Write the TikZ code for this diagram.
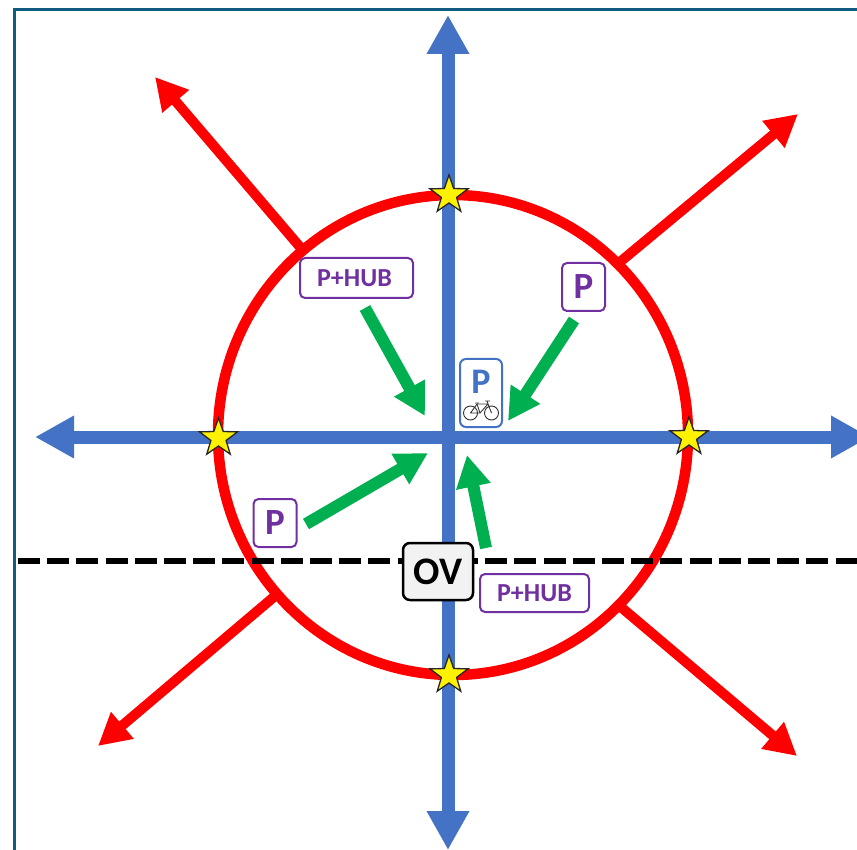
\documentclass[tikz,border=0pt]{standalone}
\usepackage{fontspec}
\setmainfont{Carlito}
\usetikzlibrary{arrows.meta,shapes.geometric}
\definecolor{blueax}{HTML}{4472C4}
\definecolor{redax}{HTML}{FF0000}
\definecolor{greenax}{HTML}{00B050}
\definecolor{purpax}{HTML}{7030A0}
\definecolor{framec}{HTML}{0F5C80}
\tikzset{
  bluearrow/.style={draw=blueax,line width=13pt,-{Triangle[length=39pt,width=40pt]}},
  redarrow/.style={draw=redax,line width=10pt,-{Triangle[length=32pt,width=33pt]}},
  greenarrow/.style={draw=greenax,line width=12pt,-{Triangle[length=32pt,width=33pt]}},
  purplebox/.style={draw=purpax,line width=2pt,rounded corners=5pt,fill=white,text=purpax,font=\bfseries,inner sep=0pt,align=center},
  hubbox/.style={purplebox,font=\fontsize{26}{28}\selectfont\bfseries},
  pbox/.style={purplebox,minimum width=43pt,minimum height=48pt,font=\fontsize{37}{40}\selectfont\bfseries},
  starnode/.style={star,star points=5,star point ratio=2.5,minimum size=40pt,inner sep=0pt,fill=yellow,draw=black!85,line width=1.3pt},
  bikeline/.style={draw=black!80,line width=.9pt}
}
\begin{document}
\begin{tikzpicture}[x=1pt,y=-1pt]
\useasboundingbox (0,0) rectangle (857,850);
\clip (0,0) rectangle (857,850);
\draw[framec,line width=3pt] (14.5,850) -- (14.5,9.5) -- (857,9.5);

\node[draw=redax,line width=10.5pt,ellipse,minimum width=470pt,minimum height=480pt,inner sep=0pt,outer sep=0pt] (ring) at (453,435) {};

\coordinate (vtop) at (448,15);
\coordinate (vbot) at (448,850);
\coordinate (hleft) at (35,437);
\coordinate (hright) at (870,437);
\draw[bluearrow] (vbot) ++(0,-39) -- (vtop);
\draw[bluearrow] (vtop) ++(0,39) -- (vbot);
\draw[bluearrow] (hright) ++(-39,0) -- (hleft);
\draw[bluearrow] (hleft) ++(39,0) -- (hright);

\coordinate (r1a) at (300,247); \coordinate (r1b) at (155,77);
\coordinate (r2a) at (620,262); \coordinate (r2b) at (798,114);
\coordinate (r3a) at (275,596); \coordinate (r3b) at (98,746);
\coordinate (r4a) at (622,608); \coordinate (r4b) at (797,756);
\draw[redarrow] (r1a) -- (r1b);
\draw[redarrow] (r2a) -- (r2b);
\draw[redarrow] (r3a) -- (r3b);
\draw[redarrow] (r4a) -- (r4b);

\coordinate (dl) at (18,561); \coordinate (dr) at (857,561);
\draw[black,line width=6pt,dash pattern=on 22pt off 7.2pt] (dl) -- (dr);

\node[draw=black,line width=2.5pt,rounded corners=7pt,fill=black!5,minimum width=70pt,minimum height=57pt,inner sep=0pt,font=\fontsize{39}{42}\selectfont\bfseries] (ov) at (438,571.5) {OV};

\node[hubbox,minimum width=113pt,minimum height=40pt] (hub1) at (356.5,278) {\hspace*{-4pt}P+HUB};
\node[hubbox,minimum width=109pt,minimum height=38pt] (hub2) at (534.5,593) {P+HUB};
\node[pbox] (p1) at (583.5,287) {P};
\node[pbox] (p2) at (275,523) {P};
\node[draw=blueax,line width=2pt,rounded corners=6pt,fill=white,minimum width=42pt,minimum height=68pt,inner sep=0pt] (pbike) at (481,393) {};
\node[text=blueax,font=\fontsize{36}{38}\selectfont\bfseries,inner sep=0pt] (pbikelabel) at (481,382) {P};

\draw[bikeline] (470.5,413) circle (7pt);
\draw[bikeline] (491.5,413) circle (7pt);
\draw[bikeline,line join=round] (470.5,413) -- (477,404) -- (488,404) -- (480,413) -- cycle;
\draw[bikeline] (477,404) -- (480,413) (488,404) -- (491.5,413) (487,401) -- (488,404) (485,401) -- (490,401) (475,403) -- (479,403);

\coordinate (g1a) at (365,308); \coordinate (g1b) at (425,416);
\coordinate (g2a) at (574,320); \coordinate (g2b) at (508,421);
\coordinate (g3a) at (306,524); \coordinate (g3b) at (428,453);
\coordinate (g4a) at (486,548); \coordinate (g4b) at (467,455);
\draw[greenarrow] (g1a) -- (g1b);
\draw[greenarrow] (g2a) -- (g2b);
\draw[greenarrow] (g3a) -- (g3b);
\draw[greenarrow] (g4a) -- (g4b);

\node[starnode] (s1) at (449,195) {};
\node[starnode] (s2) at (218.5,438) {};
\node[starnode] (s3) at (689,437) {};
\node[starnode] (s4) at (449,675) {};
\end{tikzpicture}
\end{document}
